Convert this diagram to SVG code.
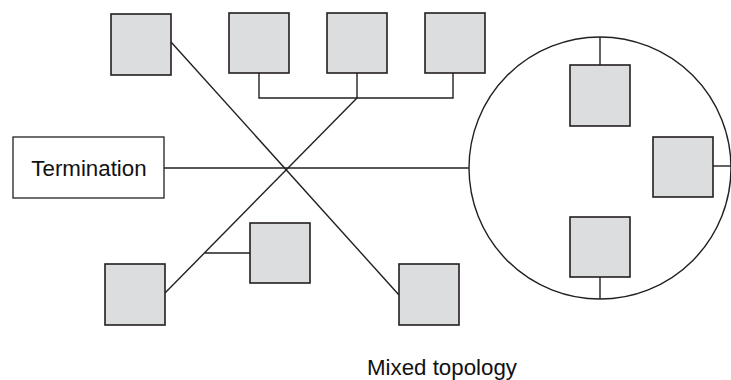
<svg xmlns="http://www.w3.org/2000/svg" width="731" height="380" viewBox="0 0 731 380">
<style>
.node{fill:#dcdddf;stroke:#231f20;stroke-width:1.6}
.term{fill:#ffffff;stroke:#231f20;stroke-width:1.3}
.ln{stroke:#231f20;stroke-width:1.4;fill:none}
.txt{font-family:"Liberation Sans",Arial,sans-serif;fill:#111111;font-size:22.3px}
</style>
<rect width="731" height="380" fill="#ffffff"/>
<g id="connectors">
<line class="ln" x1="171" y1="42" x2="399" y2="295"/>
<line class="ln" x1="165" y1="293" x2="357" y2="98"/>
<line class="ln" x1="164" y1="168" x2="469" y2="168"/>
<polyline class="ln" points="259,73 259,98 453,98 453,73"/>
<line class="ln" x1="357" y1="73" x2="357" y2="98"/>
<line class="ln" x1="205" y1="253" x2="250" y2="253"/>
<line class="ln" x1="600" y1="37" x2="600" y2="65"/>
<line class="ln" x1="713" y1="166" x2="731" y2="166"/>
<line class="ln" x1="600" y1="277" x2="600" y2="299"/>
</g>
<g id="ring"><circle class="ln" cx="600" cy="168" r="131"/></g>
<g id="n1"><rect class="node" x="111" y="14" width="60" height="61"/></g>
<g id="n2"><rect class="node" x="229" y="13" width="60" height="60"/></g>
<g id="n3"><rect class="node" x="327" y="13" width="60" height="60"/></g>
<g id="n4"><rect class="node" x="425" y="13" width="60" height="60"/></g>
<g id="termination"><rect class="term" x="13" y="137" width="151" height="61"/><text class="txt" x="89" y="176" text-anchor="middle">Termination</text></g>
<g id="n5"><rect class="node" x="105" y="264" width="60" height="61"/></g>
<g id="n6"><rect class="node" x="250" y="223" width="60" height="60"/></g>
<g id="n7"><rect class="node" x="399" y="264" width="60" height="61"/></g>
<g id="r1"><rect class="node" x="570" y="65" width="60" height="61"/></g>
<g id="r2"><rect class="node" x="653" y="137" width="60" height="60"/></g>
<g id="r3"><rect class="node" x="570" y="217" width="60" height="60"/></g>
<g id="caption"><text class="txt" x="367" y="375">Mixed topology</text></g>
</svg>
